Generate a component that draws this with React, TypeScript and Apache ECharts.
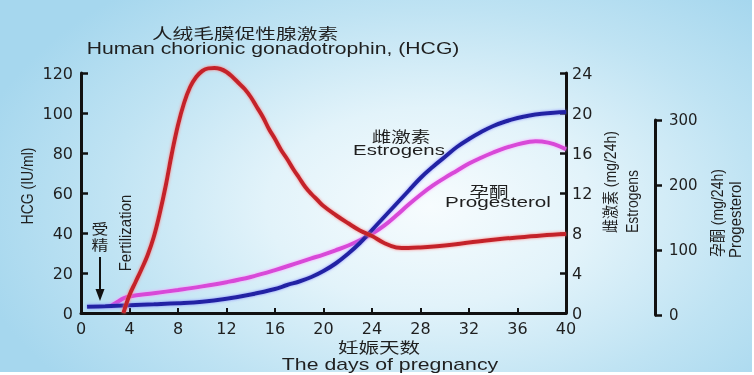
import React, { useEffect, useRef } from "react";
import * as echarts from "echarts";

// ---- Data ----
const dayTicks = [0, 4, 8, 12, 16, 20, 24, 28, 32, 36, 40];
const hcgTicks = [0, 20, 40, 60, 80, 100, 120];
const estrogenTicks = [0, 4, 8, 12, 16, 20, 24];
const progesteroneTicks = [0, 100, 200, 300];

// HCG (IU/ml), left axis
const hcgDays = [3.5, 4, 4.5, 5, 5.5, 6, 6.5, 7, 7.5, 8, 8.5, 9, 9.5, 10, 10.5, 11, 11.5, 12, 12.5, 13, 13.5, 14, 14.5, 15, 15.5, 16, 16.5, 17, 17.5, 18, 18.5, 19, 19.5, 20, 21, 22, 23, 24, 25, 26, 27, 28, 30, 32, 34, 36, 38, 40];
const hcgValues = [0, 9, 15.5, 22, 29, 38, 50, 64, 80, 94, 105, 113, 118, 121, 122.3, 122.5, 122, 120.5, 118, 115, 112, 108, 103, 98, 92, 87, 81.5, 77, 72, 67.5, 63, 59.5, 56.5, 53.5, 49, 45, 41.3, 38.5, 35, 32.8, 32.5, 32.8, 33.8, 35.2, 36.6, 37.8, 38.8, 39.5];

// Estrogens (mg/24h), right axis 0-24
const estrogenDays = [0.5, 2, 4, 6, 8, 10, 12, 14, 16, 17, 18, 19, 20, 21, 22, 23, 24, 25, 26, 27, 28, 29, 30, 31, 32, 33, 34, 35, 36, 37, 38, 39, 40];
const estrogenValues = [0.62, 0.68, 0.78, 0.87, 0.97, 1.12, 1.42, 1.85, 2.4, 2.8, 3.15, 3.6, 4.2, 4.95, 5.9, 7.0, 8.3, 9.6, 10.9, 12.2, 13.5, 14.6, 15.6, 16.6, 17.4, 18.1, 18.7, 19.15, 19.5, 19.75, 19.92, 20.03, 20.1];

// Progesterone (mg/24h), outer right axis 0-300
const progesteroneDays = [2.4, 3, 3.5, 4, 6, 8, 10, 12, 14, 16, 18, 19, 20, 21, 22, 23, 24, 25, 26, 27, 28, 29, 30, 31, 32, 33, 34, 35, 36, 37, 37.5, 38, 39, 40];
const progesteroneValues = [13, 20, 25.5, 28.5, 33.5, 38.5, 44, 50.5, 58.5, 69, 81, 87, 93, 99.5, 106.5, 115, 125, 137.5, 153, 169.5, 185, 199, 211, 222, 233, 242, 250, 257, 262.5, 266.5, 267.5, 267, 263, 255];

const zip = (d: number[], v: number[]) => d.map((x, i) => [x, v[i]]);

const LATIN = '"Liberation Sans", Arial, sans-serif';
const CJK = '"Noto Sans CJK SC", sans-serif';
const MIXED = '"Liberation Sans", "Noto Sans CJK SC", sans-serif';
const TICK_FONT = '"DejaVu Sans", sans-serif';
const INK = "#1f1f1f";

function hText(text: string, x: number, y: number, size: number, family: string, scaleX: number) {
  return {
    type: "text",
    x,
    y,
    scaleX,
    style: {
      text,
      fill: INK,
      font: `${size}px ${family}`,
      textAlign: "center",
      textVerticalAlign: "middle",
    },
  };
}

function vText(text: string, x: number, y: number, size: number, family: string, align: string) {
  return {
    type: "text",
    x,
    y,
    rotation: Math.PI / 2,
    scaleY: 1.15,
    style: {
      text,
      fill: INK,
      font: `${size}px ${family}`,
      textAlign: align,
      textVerticalAlign: "middle",
    },
  };
}

export default function App() {
  const ref = useRef<HTMLDivElement>(null);

  useEffect(() => {
    document.body.style.margin = "0";
    const chart = echarts.init(ref.current!, null, { renderer: "svg" });
    const axisLine = { show: true, onZero: false, lineStyle: { color: "#111", width: 3 } };
    const tickLabel = { color: INK, fontFamily: TICK_FONT, fontSize: 16 };

    chart.setOption({
      animation: false,
      backgroundColor: "transparent",
      grid: [
        { left: 81, right: 188, top: 73, bottom: 62 },
        { left: 81, right: 188, top: 120, bottom: 60 },
      ],
      xAxis: [
        {
          type: "value",
          gridIndex: 0,
          min: dayTicks[0],
          max: dayTicks[dayTicks.length - 1],
          interval: 4,
          axisLine,
          axisTick: { show: true, inside: true, length: 5, lineStyle: { color: "#111", width: 2 } },
          axisLabel: { ...tickLabel, margin: 7 },
          splitLine: { show: false },
        },
        {
          type: "value",
          gridIndex: 1,
          min: 0,
          max: 40,
          axisLine: { show: false, onZero: false },
          axisTick: { show: false },
          axisLabel: { show: false },
          splitLine: { show: false },
        },
      ],
      yAxis: [
        {
          type: "value",
          gridIndex: 0,
          position: "left",
          min: hcgTicks[0],
          max: hcgTicks[hcgTicks.length - 1],
          interval: 20,
          axisLine,
          axisTick: { show: true, inside: true, length: 7, lineStyle: { color: "#111", width: 2.5 } },
          axisLabel: { ...tickLabel, margin: 8 },
          splitLine: { show: false },
        },
        {
          type: "value",
          gridIndex: 0,
          position: "right",
          min: estrogenTicks[0],
          max: estrogenTicks[estrogenTicks.length - 1],
          interval: 4,
          axisLine,
          axisTick: { show: true, inside: true, length: 6, lineStyle: { color: "#111", width: 2.5 } },
          axisLabel: { ...tickLabel, margin: 6 },
          splitLine: { show: false },
        },
        {
          type: "value",
          gridIndex: 1,
          position: "right",
          offset: 89,
          min: progesteroneTicks[0],
          max: progesteroneTicks[progesteroneTicks.length - 1],
          interval: 100,
          axisLine,
          axisTick: { show: true, inside: false, length: 7, lineStyle: { color: "#111", width: 2.5 } },
          axisLabel: { ...tickLabel, fontSize: 15, margin: 14 },
          splitLine: { show: false },
        },
      ],
      series: [
        {
          name: "Progesterone",
          type: "line",
          xAxisIndex: 1,
          yAxisIndex: 2,
          data: zip(progesteroneDays, progesteroneValues),
          smooth: 0.4,
          showSymbol: false,
          clip: false,
          lineStyle: { color: "#d848d8", width: 4, shadowColor: "rgba(255,150,255,0.9)", shadowBlur: 3 },
          z: 3,
        },
        {
          name: "Estrogens",
          type: "line",
          xAxisIndex: 0,
          yAxisIndex: 1,
          data: zip(estrogenDays, estrogenValues),
          smooth: 0.4,
          showSymbol: false,
          clip: false,
          lineStyle: { color: "#2323a4", width: 4, shadowColor: "rgba(120,120,255,0.8)", shadowBlur: 3 },
          z: 4,
        },
        {
          name: "HCG",
          type: "line",
          xAxisIndex: 0,
          yAxisIndex: 0,
          data: zip(hcgDays, hcgValues),
          smooth: 0.4,
          showSymbol: false,
          clip: false,
          lineStyle: { color: "#c4242a", width: 4, shadowColor: "rgba(255,120,120,0.9)", shadowBlur: 3 },
          z: 5,
        },
      ],
      graphic: [
        hText("人绒毛膜促性腺激素", 245, 32, 15, CJK, 1.38),
        hText("Human chorionic gonadotrophin, (HCG)", 273, 48.5, 17, LATIN, 1.245),
        hText("雌激素", 401, 136, 15, CJK, 1.3),
        hText("Estrogens", 399, 150, 15, LATIN, 1.36),
        hText("孕酮", 489, 191, 15, CJK, 1.3),
        hText("Progesterol", 498, 202.5, 15, LATIN, 1.38),
        hText("妊娠天数", 379, 346, 15, CJK, 1.37),
        hText("The days of pregnancy", 390, 364, 16, LATIN, 1.33),
        vText("HCG (IU/ml)", 27.5, 186, 14, LATIN, "center"),
        vText("Fertilization", 125, 233, 15, LATIN, "center"),
        vText("雌激素 (mg/24h)", 610, 233, 14, MIXED, "left"),
        vText("Estrogens", 632, 233, 14, LATIN, "left"),
        vText("孕酮 (mg/24h)", 717, 257, 14, MIXED, "left"),
        vText("Progesterol", 735, 258, 15, LATIN, "left"),
        hText("受", 100, 228, 14, CJK, 1.2),
        hText("精", 100, 244, 14, CJK, 1.2),
        {
          type: "line",
          shape: { x1: 100, y1: 257, x2: 100, y2: 292 },
          style: { stroke: "#111", lineWidth: 2 },
        },
        {
          type: "polygon",
          shape: { points: [[95.5, 289], [104.5, 289], [100, 301]] },
          style: { fill: "#111" },
        },
      ],
    });

    return () => chart.dispose();
  }, []);

  return (
    <div
      ref={ref}
      style={{
        position: "fixed",
        left: 0,
        top: 0,
        width: 754,
        height: 375,
        background:
          "radial-gradient(ellipse 62% 75% at 57% 55%, #f7fcfe 0%, #e2f3fa 35%, #bfe3f3 70%, #a6d7ee 100%)",
        boxShadow: "inset -2px -3px 0 #ffffff",
      }}
    />
  );
}
